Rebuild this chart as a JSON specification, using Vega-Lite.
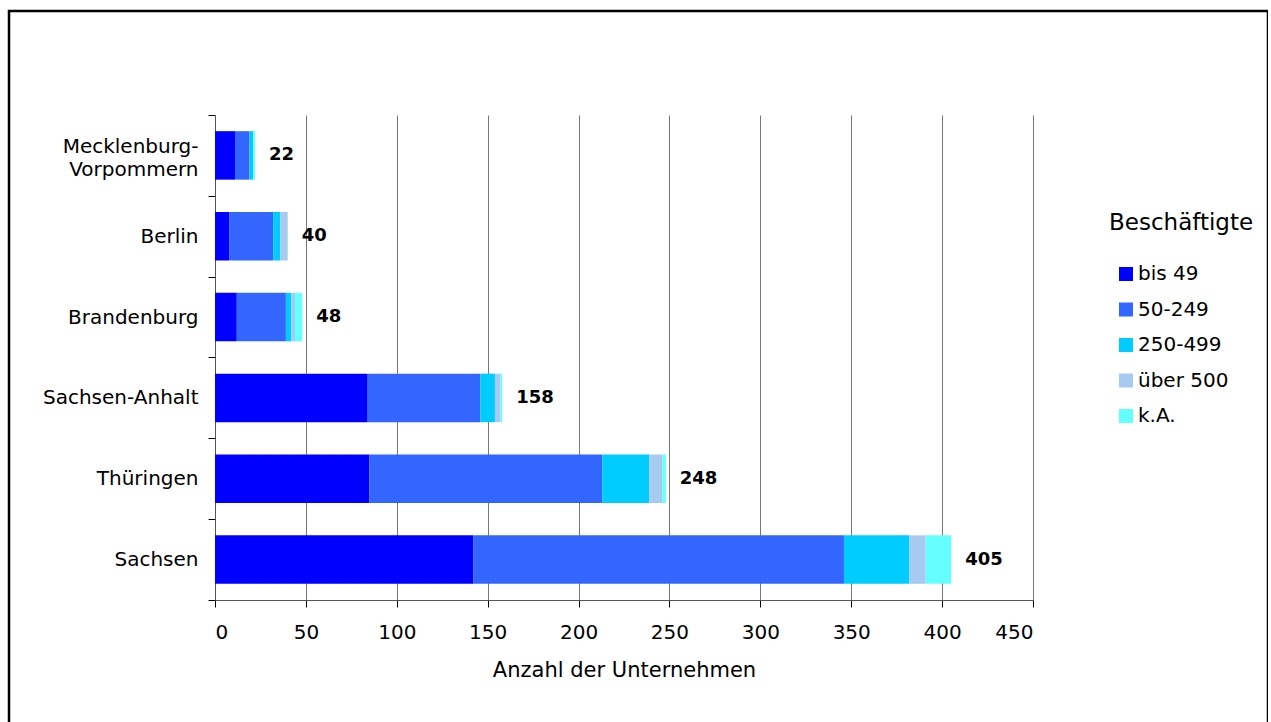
{
  "$schema": "https://vega.github.io/schema/vega-lite/v6.json",
  "autosize": {"type": "none"},
  "padding": {"left": 9, "top": 11, "right": 0, "bottom": 0},
  "width": 1259,
  "height": 730,
  "background": "white",
  "config": {
    "font": "DejaVu Sans",
    "view": {"stroke": "#000000", "strokeWidth": 2.5}
  },
  "data": {
    "values": [
      {"land": "Mecklenburg-Vorpommern", "klasse": "bis 49", "stufe": 1, "anzahl": 11},
      {"land": "Mecklenburg-Vorpommern", "klasse": "50-249", "stufe": 2, "anzahl": 8},
      {"land": "Mecklenburg-Vorpommern", "klasse": "250-499", "stufe": 3, "anzahl": 2},
      {"land": "Mecklenburg-Vorpommern", "klasse": "über 500", "stufe": 4, "anzahl": 0},
      {"land": "Mecklenburg-Vorpommern", "klasse": "k.A.", "stufe": 5, "anzahl": 1},
      {"land": "Berlin", "klasse": "bis 49", "stufe": 1, "anzahl": 8},
      {"land": "Berlin", "klasse": "50-249", "stufe": 2, "anzahl": 24},
      {"land": "Berlin", "klasse": "250-499", "stufe": 3, "anzahl": 4},
      {"land": "Berlin", "klasse": "über 500", "stufe": 4, "anzahl": 4},
      {"land": "Berlin", "klasse": "k.A.", "stufe": 5, "anzahl": 0},
      {"land": "Brandenburg", "klasse": "bis 49", "stufe": 1, "anzahl": 12},
      {"land": "Brandenburg", "klasse": "50-249", "stufe": 2, "anzahl": 27},
      {"land": "Brandenburg", "klasse": "250-499", "stufe": 3, "anzahl": 3},
      {"land": "Brandenburg", "klasse": "über 500", "stufe": 4, "anzahl": 2},
      {"land": "Brandenburg", "klasse": "k.A.", "stufe": 5, "anzahl": 4},
      {"land": "Sachsen-Anhalt", "klasse": "bis 49", "stufe": 1, "anzahl": 84},
      {"land": "Sachsen-Anhalt", "klasse": "50-249", "stufe": 2, "anzahl": 62},
      {"land": "Sachsen-Anhalt", "klasse": "250-499", "stufe": 3, "anzahl": 8},
      {"land": "Sachsen-Anhalt", "klasse": "über 500", "stufe": 4, "anzahl": 3},
      {"land": "Sachsen-Anhalt", "klasse": "k.A.", "stufe": 5, "anzahl": 1},
      {"land": "Thüringen", "klasse": "bis 49", "stufe": 1, "anzahl": 85},
      {"land": "Thüringen", "klasse": "50-249", "stufe": 2, "anzahl": 128},
      {"land": "Thüringen", "klasse": "250-499", "stufe": 3, "anzahl": 26},
      {"land": "Thüringen", "klasse": "über 500", "stufe": 4, "anzahl": 7},
      {"land": "Thüringen", "klasse": "k.A.", "stufe": 5, "anzahl": 2},
      {"land": "Sachsen", "klasse": "bis 49", "stufe": 1, "anzahl": 142},
      {"land": "Sachsen", "klasse": "50-249", "stufe": 2, "anzahl": 204},
      {"land": "Sachsen", "klasse": "250-499", "stufe": 3, "anzahl": 36},
      {"land": "Sachsen", "klasse": "über 500", "stufe": 4, "anzahl": 9},
      {"land": "Sachsen", "klasse": "k.A.", "stufe": 5, "anzahl": 14}
    ]
  },
  "encoding": {
    "y": {
      "field": "land",
      "type": "nominal",
      "scale": {
        "domain": ["Mecklenburg-Vorpommern", "Berlin", "Brandenburg", "Sachsen-Anhalt", "Thüringen", "Sachsen"],
        "range": [104, 589],
        "paddingInner": 0,
        "paddingOuter": 0
      },
      "axis": {
        "orient": "left",
        "offset": -206,
        "title": null,
        "tickBand": "extent",
        "tickSize": 7,
        "tickColor": "#000000",
        "domainColor": "#555555",
        "labelFontSize": 20,
        "labelColor": "#000000",
        "labelPadding": 10,
        "labelLimit": 0,
        "labelLineHeight": 23,
        "labelOffset": {"condition": {"test": "datum.value == 'Mecklenburg-Vorpommern'", "value": -8.5}, "value": 0},
        "labelExpr": "datum.value == 'Mecklenburg-Vorpommern' ? ['Mecklenburg-', 'Vorpommern'] : datum.value"
      }
    }
  },
  "layer": [
    {
      "mark": {"type": "bar", "height": {"band": 0.6}},
      "encoding": {
        "x": {
          "field": "anzahl",
          "type": "quantitative",
          "stack": "zero",
          "scale": {"domain": [0, 450], "range": [206, 1024], "nice": false},
          "axis": {
            "orient": "bottom",
            "offset": -141,
            "grid": false,
            "values": [0, 50, 100, 150, 200, 250, 300, 350, 400, 450],
            "tickSize": 7,
            "tickColor": "#000000",
            "domainColor": "#555555",
            "labelFontSize": 20,
            "labelColor": "#000000",
            "labelPadding": 15,
            "title": "Anzahl der Unternehmen",
            "titleFontSize": 21,
            "titleFontWeight": "normal",
            "titleColor": "#000000",
            "titlePadding": 17
          }
        },
        "order": {"field": "stufe", "type": "ordinal"},
        "color": {
          "field": "klasse",
          "type": "nominal",
          "sort": ["bis 49", "50-249", "250-499", "über 500", "k.A."],
          "scale": {
            "domain": ["bis 49", "50-249", "250-499", "über 500", "k.A."],
            "range": ["#0000FF", "#3366FF", "#00CCFF", "#A6CAF0", "#66FFFF"]
          },
          "legend": {
            "title": "Beschäftigte",
            "orient": "none",
            "legendX": 1100,
            "legendY": 201,
            "padding": 0,
            "titleFontSize": 23,
            "titleFontWeight": "normal",
            "titleColor": "#000000",
            "titlePadding": 29,
            "labelFontSize": 20,
            "labelColor": "#000000",
            "labelOffset": 2,
            "symbolType": "square",
            "symbolSize": 196,
            "symbolStrokeWidth": 0,
            "symbolOffset": 7,
            "rowPadding": 15.5
          }
        }
      }
    },
    {
      "mark": {"type": "text", "align": "left", "dx": 14, "fontWeight": "bold", "fontSize": 18, "color": "#000000"},
      "encoding": {
        "x": {
          "aggregate": "sum",
          "field": "anzahl",
          "type": "quantitative",
          "axis": {
            "orient": "top",
            "grid": true,
            "gridColor": "#777777",
            "gridWidth": 1,
            "values": [50, 100, 150, 200, 250, 300, 350, 400, 450],
            "domain": false,
            "ticks": false,
            "labels": false,
            "title": null
          }
        },
        "text": {"aggregate": "sum", "field": "anzahl", "type": "quantitative"}
      }
    }
  ],
  "resolve": {"axis": {"x": "independent"}}
}
